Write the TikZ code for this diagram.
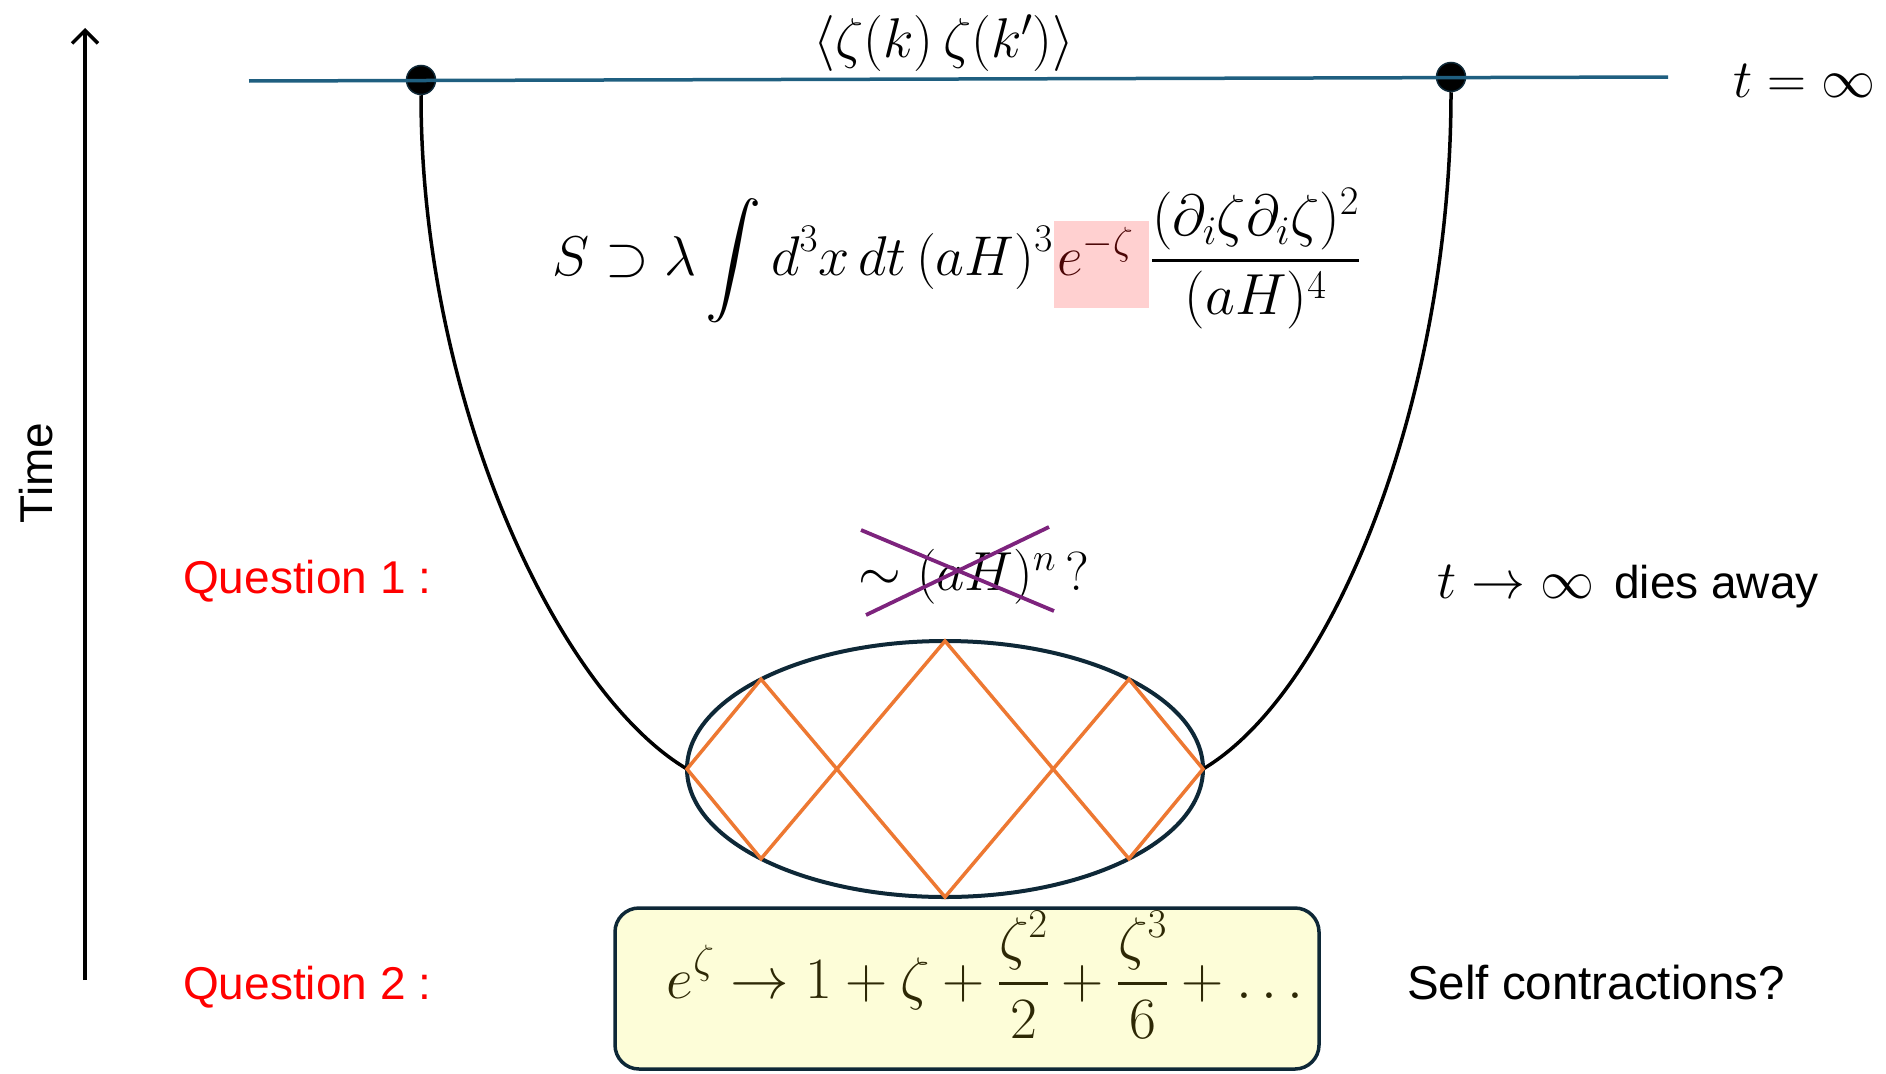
\RequirePackage{fix-cm}
\documentclass[tikz,border=0pt]{standalone}
\usepackage{amsmath}
\usepackage{fontspec}
\DeclareFontShape{OMX}{cmex}{m}{n}{<->cmex10}{}
\newfontfamily\sansf{Liberation Sans}
\usetikzlibrary{arrows.meta,shapes.geometric}
\definecolor{bluel}{RGB}{31,95,128}
\definecolor{navy}{RGB}{14,40,55}
\definecolor{orng}{RGB}{237,120,50}
\definecolor{purp}{RGB}{125,35,125}
\definecolor{pinkb}{RGB}{255,208,208}
\definecolor{yelb}{RGB}{253,253,216}
\definecolor{olivet}{RGB}{45,40,5}
\definecolor{darkredt}{RGB}{75,5,5}
\tikzset{
  mathtxt/.style={inner sep=0pt, font=\fontsize{56}{66}\selectfont},
  sanstxt/.style={inner sep=0pt, font=\fontsize{46}{55}\selectfont\sansf},
  qtxt/.style={sanstxt, text=red},
  dotnode/.style={circle, fill=black, draw=navy, line width=1.5pt, minimum size=29pt, inner sep=0pt},
  curveln/.style={line width=3.5pt, black},
  zig/.style={line width=3.5pt, orng, line join=miter},
  crossln/.style={line width=3.8pt, purp},
}
\begin{document}
\begin{tikzpicture}[x=1pt,y=-1pt]
\useasboundingbox (0,0) rectangle (1886,1073);

% time axis
\coordinate (tb) at (85,980);
\coordinate (tt) at (85,28);
\draw[line width=3.5pt, -{Straight Barb[length=13pt,width=26pt,line width=3.5pt]}] (tb) -- (tt);
\node[sanstxt, rotate=90] (time) at (36,473) {Time};

% ellipse
\node[ellipse, draw=navy, line width=4pt, minimum width=516pt, minimum height=256pt, inner sep=0pt, outer sep=0pt] (ell) at (945,769) {};

% dots and curves
\node[dotnode] (dotL) at (421,80) {};
\node[dotnode] (dotR) at (1451,77) {};
\draw[curveln] (dotL.south) .. controls (421,400) and (557,692) .. (ell.west);
\draw[curveln] (dotR.south) .. controls (1451,400) and (1333,692) .. (ell.east);

% top line (over the dots)
\coordinate (lineL) at (249,81);
\coordinate (lineR) at (1668,77);
\draw[bluel, line width=3.5pt] (lineL) -- (lineR);
\node[mathtxt] (corr) at (944,43) {$\langle \zeta(k)\,\zeta(k')\rangle$};
\node[mathtxt, anchor=base, font=\fontsize{54}{64}\selectfont] (tinf) at (1804,97) {$t=\infty$};

% zigzag inside ellipse
\coordinate (zL) at (ell.west);
\coordinate (zR) at (ell.east);
\coordinate (zT) at (ell.north);
\coordinate (zB) at (ell.south);
\coordinate (zTL) at (ell.154);
\coordinate (zBL) at (ell.206);
\coordinate (zTR) at (ell.26);
\coordinate (zBR) at (ell.-26);
\draw[zig] (zL) -- (zTL) -- (zB) -- (zTR) -- (zR) -- (zBR) -- (zT) -- (zBL) -- cycle;

% action
\node[fill=pinkb, minimum width=95pt, minimum height=87pt, inner sep=0pt, anchor=north west] (pink) at (1054,221) {};
\node[mathtxt, anchor=base east] (actL) at (1053,275) {$\displaystyle S\supset\lambda\int d^3x\,dt\,(aH)^3$};
\node[mathtxt, anchor=base west, text=darkredt] (expz) at (1057,275) {$e^{-\zeta}$};
\node[mathtxt, anchor=base west, font=\fontsize{58}{68}\selectfont] (actR) at (1151,275) {$\displaystyle\frac{(\partial_i\zeta\partial_i\zeta)^2}{(aH)^4}$};

% question 1
\node[qtxt, anchor=base west] (q1) at (183,593) {Question 1 :};
\node[mathtxt, anchor=base, font=\fontsize{55}{65}\selectfont] (scal) at (974,590) {$\sim(aH)^n\,?$};
\coordinate (c1a) at (861,530);
\coordinate (c1b) at (1054,611);
\coordinate (c2a) at (866,615);
\coordinate (c2b) at (1049,527);
\draw[crossln] (c1a) -- (c1b);
\draw[crossln] (c2a) -- (c2b);
\node[anchor=base west, inner sep=0pt] (dies) at (1437,598) {{\fontsize{54}{64}\selectfont$t\to\infty$}\hspace{20pt}{\fontsize{46}{55}\selectfont\sansf dies away}};

% question 2
\node[qtxt, anchor=base west] (q2) at (183,999) {Question 2 :};
\draw[navy, line width=3.5pt, fill=yelb, rounded corners=24pt] (615,908) rectangle (1319,1069);
\node[mathtxt, anchor=base, text=olivet, font=\fontsize{58.5}{68}\selectfont] (series) at (990,998) {$\displaystyle e^{\zeta}\to 1+\zeta+\frac{\zeta^2}{2}+\frac{\zeta^3}{6}+\dots$};
\node[sanstxt, anchor=base west, font=\fontsize{47.5}{56}\selectfont\sansf] (self) at (1407,999) {Self contractions?};
\end{tikzpicture}
\end{document}
